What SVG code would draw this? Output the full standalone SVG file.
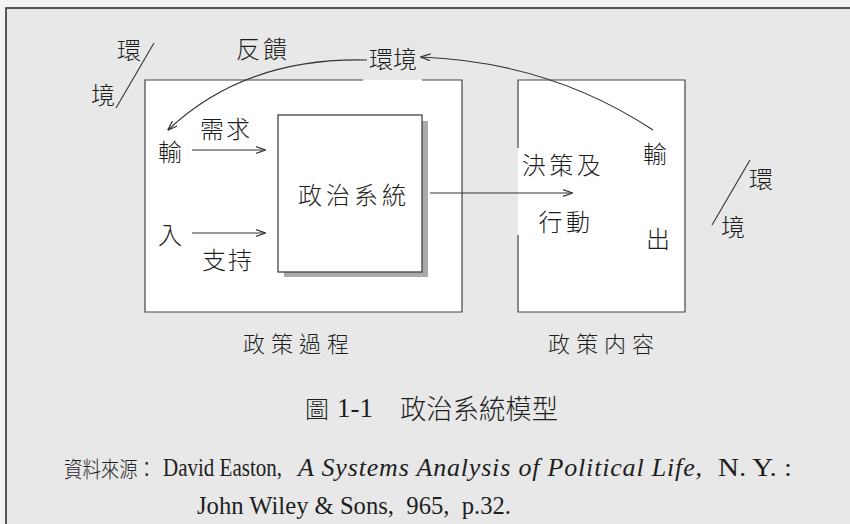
<svg xmlns="http://www.w3.org/2000/svg" width="850" height="524" viewBox="0 0 850 524">
<style>
.cjk{font-family:"Noto Sans CJK TC","Noto Sans CJK SC",sans-serif;fill:#1e1e1e;font-size:24px;font-weight:300;dominant-baseline:central;text-anchor:middle}
.lab{font-size:22px}
.box{fill:#fff;stroke:#444;stroke-width:1.3}
.edge{fill:none;stroke:#444;stroke-width:1.2}
.con{fill:none;stroke:#333;stroke-width:1.1}
.ser{font-family:"Liberation Serif","Times New Roman",serif;fill:#1e1e1e;font-size:26px}
</style>
<defs>
<marker id="arr" viewBox="0 0 10 8" refX="9.5" refY="4" markerWidth="10" markerHeight="8" markerUnits="userSpaceOnUse" orient="auto">
<path d="M0,0.5 L10,4 L0,7.5" fill="none" stroke="#333" stroke-width="1.2"/>
</marker>
</defs>
<rect x="0" y="0" width="850" height="524" fill="#f3f3f3"/>
<rect id="frame" x="6" y="8" width="870" height="540" fill="#e8e8e8" stroke="#333" stroke-width="1.6"/>

<g id="env-left">
<line x1="154" y1="43" x2="116" y2="108" class="con"/>
<text class="cjk" x="129" y="48">環</text>
<text class="cjk" x="103" y="93">境</text>
</g>

<g id="policy-process">
<rect x="145" y="80" width="317" height="232" fill="#fff"/>
<path class="edge" d="M363,80 H145 V312 H462 V80 H422"/>
<text class="cjk lab" x="299" y="342" letter-spacing="6">政策過程</text>
</g>

<g id="political-system">
<rect x="284" y="121" width="144" height="156" fill="#aaa"/>
<rect class="box" x="278" y="115" width="144" height="157"/>
<text class="cjk" x="354" y="193" letter-spacing="4">政治系統</text>
</g>

<g id="policy-content">
<rect x="518" y="80" width="167" height="232" fill="#fff"/>
<path class="edge" d="M518,148 V80 H685 V312 H518 V235"/>
<text class="cjk" x="563" y="163" letter-spacing="3.5">決策及</text>
<text class="cjk" x="566" y="220" letter-spacing="3.5">行動</text>
<text class="cjk" x="655" y="152">輸</text>
<text class="cjk" x="658" y="237">出</text>
<text class="cjk lab" x="604" y="342" letter-spacing="6">政策内容</text>
</g>

<g id="inputs">
<text class="cjk" x="170" y="150">輸</text>
<text class="cjk" x="170" y="233">入</text>
<text class="cjk" x="226" y="127" letter-spacing="2">需求</text>
<text class="cjk" x="228" y="258" letter-spacing="2">支持</text>
</g>

<g id="env-top">
<text class="cjk" x="393" y="57">環境</text>
<text class="cjk" x="263" y="47" letter-spacing="3">反饋</text>
</g>

<g id="env-right">
<line x1="750" y1="160" x2="712" y2="225" class="con"/>
<text class="cjk" x="761" y="177">環</text>
<text class="cjk" x="733" y="225">境</text>
</g>

<g id="connectors">
<line class="con" x1="192" y1="150" x2="265" y2="150" marker-end="url(#arr)"/>
<line class="con" x1="192" y1="233" x2="265" y2="233" marker-end="url(#arr)"/>
<line class="con" x1="430" y1="193" x2="572" y2="193" marker-end="url(#arr)"/>
<path class="con" d="M653,130 Q550,62 421,57" marker-end="url(#arr)"/>
<path class="con" d="M367,60 Q245,57 168,130" marker-end="url(#arr)"/>
</g>

<g id="caption">
<text class="cjk" x="317" y="407" style="font-size:24px">圖</text>
<text class="ser" x="337" y="417" style="font-size:28px" textLength="36" lengthAdjust="spacingAndGlyphs">1-1</text>
<text class="cjk" x="479" y="407" style="font-size:27px" textLength="158" lengthAdjust="spacingAndGlyphs">政治系統模型</text>
</g>

<g id="source">
<text class="cjk" x="64" y="467" style="font-size:22px;text-anchor:start" textLength="92" lengthAdjust="spacingAndGlyphs">資料來源：</text>
<text class="ser" x="163" y="476" textLength="119" lengthAdjust="spacingAndGlyphs">David Easton,</text>
<text class="ser" x="298" y="476" font-style="italic" textLength="404" lengthAdjust="spacing">A Systems Analysis of Political Life,</text>
<text class="ser" x="718" y="476" textLength="74" lengthAdjust="spacingAndGlyphs">N. Y. :</text>
<text class="ser" x="197" y="514" textLength="314" lengthAdjust="spacingAndGlyphs">John Wiley &amp; Sons,&#160; 965,&#160; p.32.</text>
</g>
</svg>
